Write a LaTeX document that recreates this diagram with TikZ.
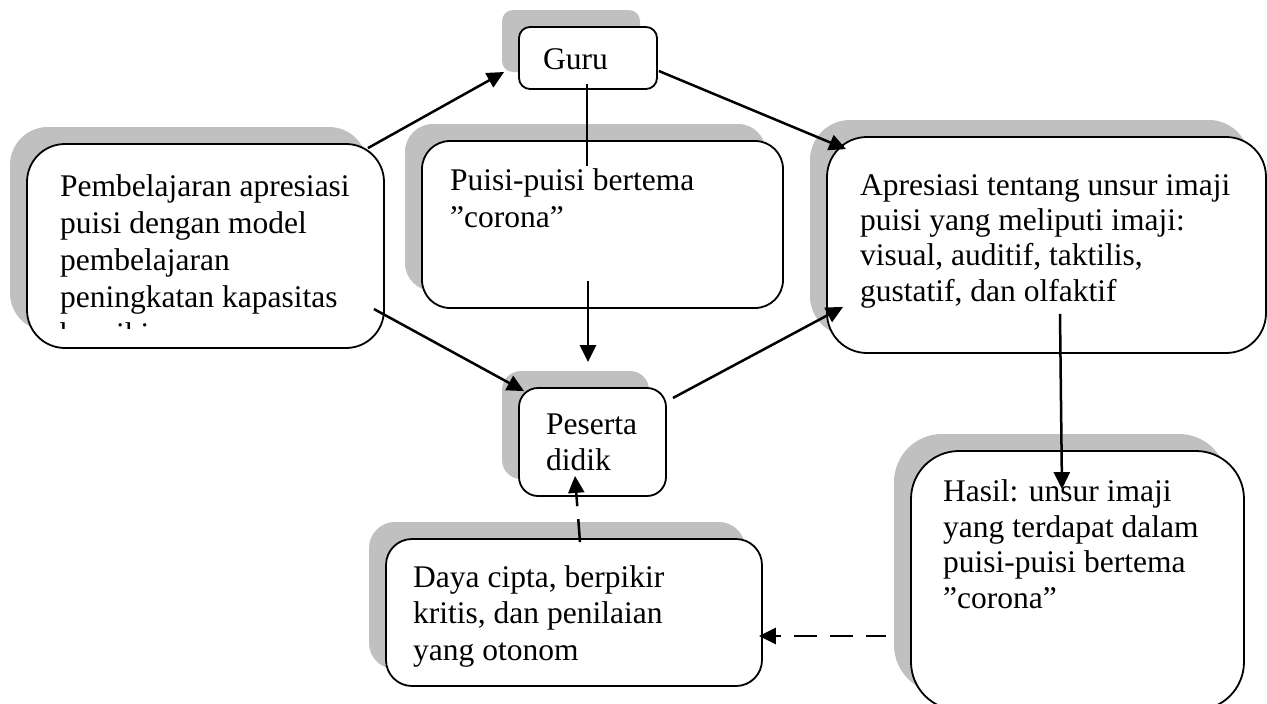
\documentclass[tikz,border=0pt]{standalone}
\usepackage{fontspec}
\setmainfont{Liberation Serif}
\usetikzlibrary{arrows.meta,shadows}
\definecolor{shadowgray}{RGB}{192,192,192}
\tikzset{
  box/.style={draw=black, line width=1.8pt, fill=white, inner sep=0pt,
    general shadow={fill=shadowgray, shadow xshift=-17pt, shadow yshift=17pt}},
  txt/.style={anchor=north west, inner sep=0pt, align=left,
    font=\fontsize{31.5}{36.5}\selectfont},
  conn/.style={line width=2.5pt, -{Triangle[length=17pt,width=16pt]}},
  plainconn/.style={line width=2.5pt},
  dashconn/.style={conn, dash pattern=on 23pt off 13pt},
  dashconnrev/.style={line width=2.5pt, {Triangle[length=17pt,width=16pt]}-, dash pattern=on 23pt off 13pt, dash phase=17pt},
}
\begin{document}
\begin{tikzpicture}[x=1pt,y=-1pt]
\path[use as bounding box, fill=white] (0,0) rectangle (1267,704);

% boxes
\node[box, minimum width=357pt, minimum height=204pt, rounded corners=38pt] (A) at (205.5,246) {};
\node[box, minimum width=138pt, minimum height=62pt, rounded corners=11pt] (guru) at (588,58) {};
\node[box, minimum width=361pt, minimum height=167pt, rounded corners=28pt] (puisi) at (602.5,224.5) {};
\node[box, minimum width=147pt, minimum height=108pt, rounded corners=19pt] (peserta) at (592.5,442) {};
\node[box, minimum width=439pt, minimum height=216pt, rounded corners=40pt] (apres) at (1046.5,245) {};
\node[box, minimum width=333pt, minimum height=259pt, rounded corners=48pt] (hasil) at (1077.5,580.5) {};
\node[box, minimum width=376pt, minimum height=147pt, rounded corners=26pt] (daya) at (574,612.5) {};

% texts
\begin{scope}
\clip (0,0) rectangle (400,328);
\node[txt, font=\fontsize{31.5}{37}\selectfont] (tA) at (60,166) {\rule{0pt}{30pt}Pembelajaran apresiasi\\puisi dengan model\\pembelajaran\\peningkatan kapasitas\\berpikir};
\end{scope}
\node[txt] (tguru) at (543,39) {\rule{0pt}{30pt}Guru};
\node[txt, font=\fontsize{31.5}{37}\selectfont] (tpuisi) at (450,160) {\rule{0pt}{30pt}Puisi-puisi bertema\\”corona”};
\node[txt, font=\fontsize{31.5}{36.5}\selectfont] (tpeserta) at (546,404) {\rule{0pt}{30pt}Peserta\\didik};
\node[txt, font=\fontsize{31.5}{35.3}\selectfont] (tapres) at (860,165) {\rule{0pt}{30pt}Apresiasi tentang unsur imaji\\puisi yang meliputi imaji:\\visual, auditif, taktilis,\\gustatif, dan olfaktif};
\node[txt, font=\fontsize{31.5}{35.8}\selectfont] (thasil) at (943,471) {\rule{0pt}{30pt}Hasil: unsur imaji\\yang terdapat dalam\\puisi-puisi bertema\\”corona”};
\node[txt, font=\fontsize{31.5}{36.6}\selectfont] (tdaya) at (413,557) {\rule{0pt}{30pt}Daya cipta, berpikir\\kritis, dan penilaian\\yang otonom};

% connectors
\draw[conn] ([shift={(-17,5)}]A.north east) -- ([shift={(-14,14)}]guru.west);
\draw[conn] ([shift={(1,13)}]guru.east) -- ([shift={(20,13)}]apres.north west);
\draw[plainconn] ([shift={(-1,-6)}]guru.south) -- ([shift={(-15.5,26)}]puisi.north);
\draw[conn] ([shift={(-14.5,-28)}]puisi.south) -- ([shift={(-4.5,-25)}]peserta.north);
\draw[conn] ([shift={(-11,63)}]A.east) -- ([shift={(6,4)}]peserta.north west);
\draw[conn] ([shift={(6,-44)}]peserta.east) -- ([shift={(17,-47)}]apres.south west);
\draw[conn] ([shift={(13.5,-40)}]apres.south) -- ([shift={(-15.5,39)}]hasil.north);
\draw[dashconnrev] ([shift={(-4,23.5)}]daya.east) -- ([shift={(-24,55.5)}]hasil.west);
\draw[dashconn] ([shift={(6,4)}]daya.north) -- ([shift={(-17.5,-21)}]peserta.south);
\end{tikzpicture}
\end{document}
